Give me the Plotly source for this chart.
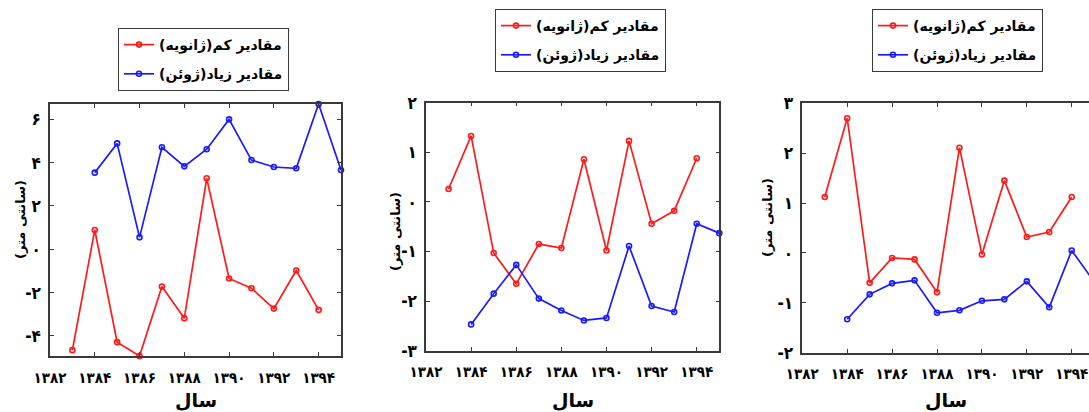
import plotly.graph_objects as go

# Years (Persian calendar)
years_low = [1383, 1384, 1385, 1386, 1387, 1388, 1389, 1390, 1391, 1392, 1393, 1394]
years_high = [1384, 1385, 1386, 1387, 1388, 1389, 1390, 1391, 1392, 1393, 1394, 1395]

# Station 1
low_1 = [-4.66, 0.89, -4.29, -4.93, -1.72, -3.19, 3.28, -1.35, -1.80, -2.74, -0.98, -2.80]
high_1 = [3.54, 4.89, 0.55, 4.71, 3.83, 4.62, 6.00, 4.12, 3.80, 3.74, 6.71, 3.66]

# Station 2
low_2 = [0.26, 1.33, -1.03, -1.65, -0.85, -0.93, 0.86, -0.98, 1.23, -0.44, -0.18, 0.88]
high_2 = [-2.47, -1.85, -1.27, -1.95, -2.19, -2.39, -2.34, -0.89, -2.10, -2.22, -0.44, -0.63]

# Station 3
low_3 = [1.12, 2.70, -0.60, -0.10, -0.13, -0.79, 2.11, -0.03, 1.45, 0.32, 0.42, 1.12]
high_3 = [-1.33, -0.83, -0.61, -0.55, -1.20, -1.15, -0.96, -0.93, -0.57, -1.09, 0.05, -0.58]

# Tick labels
x_tickvals = [1382, 1384, 1386, 1388, 1390, 1392, 1394]
x_ticktext = ["۱۳۸۲", "۱۳۸۴", "۱۳۸۶", "۱۳۸۸", "۱۳۹۰", "۱۳۹۲", "۱۳۹۴"]
y1_tickvals = [-4, -2, 0, 2, 4, 6]
y1_ticktext = ["-۴", "-۲", "۰", "۲", "۴", "۶"]
y2_tickvals = [-3, -2, -1, 0, 1, 2]
y2_ticktext = ["-۳", "-۲", "-۱", "۰", "۱", "۲"]
y3_tickvals = [-2, -1, 0, 1, 2, 3]
y3_ticktext = ["-۲", "-۱", "۰", "۱", "۲", "۳"]

RLM = "\u200f"
name_low = RLM + "مقادیر کم(ژانویه)" + RLM
name_high = RLM + "مقادیر زیاد(ژوئن)" + RLM
x_title = "سال"
y_title = RLM + "(سانتی متر)" + RLM

W, H = 1089, 412
FONT = "DejaVu Sans"
NARROW = "DejaVu Sans Condensed, DejaVu Sans"
RED = "#ff1a1a"
BLUE = "#1a1aff"
AXIS_COLOR = "#3a3a3a"

# Panel geometry in pixels: (left, right, top, bottom)
panels = [
    dict(px=(50, 341), py=(104, 356), xr=[1382, 1395], yr=[-4.93, 6.71],
         low=low_1, high=high_1, yt=(y1_tickvals, y1_ticktext), mirror_y=True,
         legend=(118, 28), ytitle=(20, 220)),
    dict(px=(426, 719.3), py=(102.7, 350.7), xr=[1382, 1395], yr=[-3, 2],
         low=low_2, high=high_2, yt=(y2_tickvals, y2_ticktext), mirror_y=True,
         legend=(495, 9), ytitle=(395, 232)),
    dict(px=(802.3, 1089), py=(103.3, 352.7), xr=[1382, 1382 + (1089 - 802.3) / 22.45], yr=[-2, 3],
         low=low_3, high=high_3, yt=(y3_tickvals, y3_ticktext), mirror_y=False,
         legend=(872, 9), ytitle=(767, 218)),
]

fig = go.Figure()
annotations = []
layout = dict(
    template="none",
    width=W, height=H, autosize=False,
    margin=dict(l=0, r=0, t=0, b=0, pad=0),
    paper_bgcolor="white", plot_bgcolor="white",
    font=dict(family=FONT, color="black"),
)

for i, p in enumerate(panels, start=1):
    xa = "x" if i == 1 else f"x{i}"
    ya = "y" if i == 1 else f"y{i}"
    leg = "legend" if i == 1 else f"legend{i}"
    fig.add_trace(go.Scatter(
        x=years_low, y=p["low"], name=name_low, mode="lines+markers",
        line=dict(color=RED, width=1.7),
        marker=dict(symbol="circle-open", size=5, color=RED, line=dict(width=1.6)),
        xaxis=xa, yaxis=ya, legend=leg, legendgroup=f"low{i}", cliponaxis=False,
    ))
    fig.add_trace(go.Scatter(
        x=years_high, y=p["high"], name=name_high, mode="lines+markers",
        line=dict(color=BLUE, width=1.7),
        marker=dict(symbol="circle-open", size=5, color=BLUE, line=dict(width=1.6)),
        xaxis=xa, yaxis=ya, legend=leg, legendgroup=f"high{i}", cliponaxis=(i == 3),
    ))

    xd = [p["px"][0] / W, p["px"][1] / W]
    yd = [1 - p["py"][1] / H, 1 - p["py"][0] / H]
    xkey = "xaxis" if i == 1 else f"xaxis{i}"
    ykey = "yaxis" if i == 1 else f"yaxis{i}"
    layout[xkey] = dict(
        domain=xd, range=p["xr"], anchor=ya, automargin=False,
        tickmode="array", tickvals=x_tickvals, ticktext=x_ticktext,
        ticks="inside", ticklen=4, tickwidth=1, tickcolor=AXIS_COLOR,
        ticklabelstandoff=7, ticklabeloverflow="allow",
        showline=True, linecolor=AXIS_COLOR, linewidth=1.5, mirror="ticks",
        showgrid=False, zeroline=False,
        tickfont=dict(family=NARROW, size=15, weight="bold", color="black"),
    )
    layout[ykey] = dict(
        domain=yd, range=p["yr"], anchor=xa, automargin=False,
        tickmode="array", tickvals=p["yt"][0], ticktext=p["yt"][1],
        ticks="inside", ticklen=4, tickwidth=1, tickcolor=AXIS_COLOR,
        ticklabelstandoff=4, ticklabeloverflow="allow",
        showline=True, linecolor=AXIS_COLOR, linewidth=1.5,
        mirror="ticks" if p["mirror_y"] else False,
        showgrid=False, zeroline=False,
        tickfont=dict(family=NARROW, size=17, weight="bold", color="black"),
    )
    layout[leg] = dict(
        x=p["legend"][0] / W, y=1 - p["legend"][1] / H,
        xanchor="left", yanchor="top",
        bgcolor="white", bordercolor=AXIS_COLOR, borderwidth=1,
        font=dict(family=FONT, size=14, weight="bold", color="black"),
        traceorder="grouped", tracegroupgap=8, itemwidth=30,
    )
    annotations.append(dict(
        x=(p["px"][0] + p["px"][1]) / 2 / W, y=1 - 400 / H, xref="paper", yref="paper",
        text=x_title, showarrow=False, xanchor="center", yanchor="middle",
        font=dict(family=FONT, size=19, weight="bold", color="black"),
    ))
    annotations.append(dict(
        x=p["ytitle"][0] / W, y=1 - p["ytitle"][1] / H, xref="paper", yref="paper",
        text=y_title, showarrow=False, textangle=-90, xanchor="center", yanchor="middle",
        font=dict(family=FONT, size=13, weight="bold", color="black"),
    ))

layout["annotations"] = annotations
layout["showlegend"] = True
fig.update_layout(**layout)
fig.write_html("out.html")
